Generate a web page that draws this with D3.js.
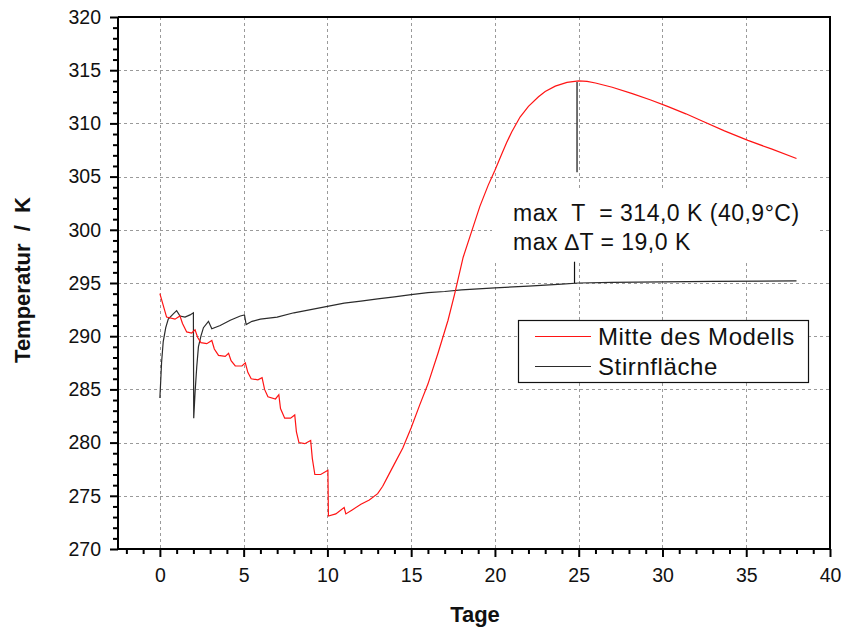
<!DOCTYPE html>
<html>
<head>
<meta charset="utf-8">
<script src="https://cdn.jsdelivr.net/npm/d3@7"></script>
<style>
  html, body { margin: 0; padding: 0; background: #fff; }
  svg { display: block; font-family: Arial, "Liberation Sans", sans-serif; }
</style>
</head>
<body>
<svg id="chart" width="846" height="631"></svg>
<script>
// Temperaturverlauf: Mitte des Modells vs. Stirnfläche (Tage, Kelvin)
const xTicks = [0, 5, 10, 15, 20, 25, 30, 35, 40];
const yTicks = [270, 275, 280, 285, 290, 295, 300, 305, 310, 315, 320];

const mitteDays = [0, 0.2, 0.4, 0.9, 1.2, 1.35, 1.6, 1.9, 2.1, 2.25, 2.45, 2.8, 3.1, 3.25, 3.5, 3.9, 4.1, 4.25, 4.5, 4.9, 5.1, 5.25, 5.45, 5.85, 6.1, 6.25, 6.45, 6.9, 7.1, 7.2, 7.45, 7.8, 8.05, 8.15, 8.3, 8.65, 9.0, 9.1, 9.25, 9.6, 10.03, 10.06, 10.5, 11.0, 11.1, 11.5, 12.0, 12.5, 13.0, 13.3, 13.6, 14.0, 14.5, 15.0, 15.5, 16.0, 16.6, 17.2, 17.6, 18.1, 18.6, 19.1, 19.6, 20.0, 20.4, 20.7, 21.0, 21.5, 22.0, 22.6, 23.0, 23.6, 24.3, 25.0, 25.5, 26.0, 27.0, 28.2, 29.3, 30.3, 31.4, 32.4, 33.7, 35.1, 36.5, 38.0];
const mitteTemp = [294.0, 292.9, 291.8, 291.6, 291.9, 291.2, 290.4, 290.3, 290.6, 289.9, 289.4, 289.3, 289.6, 288.8, 288.2, 288.1, 288.4, 287.7, 287.2, 287.2, 287.5, 286.6, 286.0, 285.9, 286.1, 285.0, 284.3, 284.1, 284.5, 283.2, 282.3, 282.3, 282.6, 281.0, 280.0, 279.9, 280.2, 278.5, 277.0, 277.0, 277.4, 273.1, 273.3, 273.9, 273.3, 273.7, 274.2, 274.6, 275.2, 275.9, 276.8, 278.0, 279.5, 281.4, 283.5, 285.5, 288.4, 291.5, 294.0, 297.4, 299.8, 302.2, 304.2, 305.6, 307.1, 308.2, 309.2, 310.6, 311.6, 312.5, 313.0, 313.5, 313.85, 314.0, 313.95, 313.8, 313.4, 312.8, 312.2, 311.6, 310.9, 310.2, 309.3, 308.4, 307.6, 306.7];

const stirnDays = [0, 0.05, 0.1, 0.2, 0.35, 0.5, 0.8, 1.0, 1.2, 1.5, 1.8, 2.0, 2.02, 2.1, 2.2, 2.3, 2.45, 2.6, 2.9, 3.1, 3.6, 4.2, 4.8, 5.05, 5.15, 5.5, 6.0, 6.5, 7.0, 8.0, 9.0, 10.0, 11.0, 12.0, 13.0, 14.0, 15.0, 16.0, 17.0, 18.0, 20.0, 22.0, 24.0, 25.0, 27.0, 30.0, 33.0, 38.0];
const stirnTemp = [284.2, 285.8, 287.5, 289.5, 290.8, 291.6, 292.1, 292.4, 291.9, 291.8, 292.0, 292.2, 282.3, 284.7, 287.1, 289.0, 290.0, 290.8, 291.4, 290.7, 291.0, 291.5, 291.9, 292.0, 291.1, 291.4, 291.6, 291.7, 291.8, 292.2, 292.5, 292.8, 293.1, 293.3, 293.5, 293.7, 293.9, 294.1, 294.2, 294.35, 294.55, 294.7, 294.9, 295.0, 295.05, 295.1, 295.15, 295.2];

const seriesNames = ["Mitte des Modells", "Stirnfläche"];
const seriesColors = ["#ff1414", "#2b2b2b"];

const maxDay = 25.0;
const maxTemp = 314.0;
const stirnAtMax = 295.0;
const annotationLines = [
  "max  T  = " + maxTemp.toFixed(1).replace(".", ",") + " K (" + (maxTemp - 273.15).toFixed(1).replace(".", ",") + "°C)",
  "max ∆T = " + (maxTemp - stirnAtMax).toFixed(1).replace(".", ",") + " K"
];

const svg = d3.select("#chart");
const plotL = 118, plotR = 830, plotT = 17, plotB = 549;

const x = d3.scaleLinear().domain([-2.5, 40]).range([plotL, plotR]);
const y = d3.scaleLinear().domain([270, 320]).range([plotB, plotT]);

// Gitternetz
const grid = svg.append("g").attr("stroke", "#9a9a9a").attr("stroke-width", 1)
  .attr("stroke-dasharray", "3,3");
grid.selectAll("line.v").data(xTicks.filter(d => d >= 0 && d < 40))
  .join("line").attr("class", "v")
  .attr("x1", d => Math.round(x(d)) + 0.5).attr("x2", d => Math.round(x(d)) + 0.5)
  .attr("y1", plotT).attr("y2", plotB);
grid.selectAll("line.h").data(yTicks.filter(d => d > 270 && d < 320))
  .join("line").attr("class", "h")
  .attr("x1", plotL).attr("x2", plotR)
  .attr("y1", d => Math.round(y(d)) + 0.5).attr("y2", d => Math.round(y(d)) + 0.5);

// Rahmen oben und rechts
svg.append("path")
  .attr("d", `M${plotL},${plotT}H${plotR}V${plotB}`)
  .attr("fill", "none").attr("stroke", "#000").attr("stroke-width", 2);

// Hintergrund der Beschriftung
svg.append("rect").attr("x", 492).attr("y", y(303.8))
  .attr("width", 326).attr("height", y(296.9) - y(303.8))
  .attr("fill", "#fff");

// Kurven
const line = d3.line().x(d => x(d[0])).y(d => y(d[1]));
const mitte = mitteDays.map((d, i) => [d, mitteTemp[i]]);
const stirn = stirnDays.map((d, i) => [d, stirnTemp[i]]);

svg.append("path").datum(stirn).attr("d", line)
  .attr("fill", "none").attr("stroke", seriesColors[1]).attr("stroke-width", 1.2);
svg.append("path").datum(mitte).attr("d", line)
  .attr("fill", "none").attr("stroke", seriesColors[0]).attr("stroke-width", 1.2);

// Markierungen am Maximum
svg.append("line").attr("x1", x(maxDay - 0.1)).attr("x2", x(maxDay - 0.1))
  .attr("y1", y(maxTemp - 0.1)).attr("y2", y(305.4))
  .attr("stroke", "#111").attr("stroke-width", 1.2);
svg.append("line").attr("x1", x(maxDay - 0.25)).attr("x2", x(maxDay - 0.25))
  .attr("y1", y(297.0)).attr("y2", y(stirnAtMax))
  .attr("stroke", "#111").attr("stroke-width", 1.2);

// Beschriftung
const ann = svg.append("g").attr("font-size", 23).attr("fill", "#111")
  .attr("letter-spacing", 0.5);
annotationLines.forEach((t, i) => {
  ann.append("text").attr("x", 513).attr("y", 221 + i * 28.5)
    .style("white-space", "pre").text(t);
});

// Achsen
const xAxis = svg.append("g").attr("transform", `translate(0,${plotB})`)
  .call(d3.axisBottom(x).tickValues(xTicks).tickSize(8).tickPadding(11).tickFormat(d3.format("d")));
const xMinor = svg.append("g").attr("transform", `translate(0,${plotB})`)
  .call(d3.axisBottom(x).tickValues(d3.range(-2, 40, 1).filter(d => d % 5 !== 0)).tickSize(5).tickFormat(""));
const yAxis = svg.append("g").attr("transform", `translate(${plotL},0)`)
  .call(d3.axisLeft(y).tickValues(yTicks).tickSize(8).tickPadding(9).tickFormat(d3.format("d")));
const yMinor = svg.append("g").attr("transform", `translate(${plotL},0)`)
  .call(d3.axisLeft(y).tickValues(d3.range(271, 320, 1).filter(d => d % 5 !== 0)).tickSize(5).tickFormat(""));

[xAxis, xMinor, yAxis, yMinor].forEach(g => {
  g.select(".domain").attr("stroke", "#000").attr("stroke-width", 2);
  g.selectAll(".tick line").attr("stroke", "#000").attr("stroke-width", 2);
  g.selectAll(".tick text").attr("font-size", 19.5).attr("fill", "#111")
    .style("font-family", "Arial, 'Liberation Sans', sans-serif");
});
xMinor.select(".domain").remove();
yMinor.select(".domain").remove();
yAxis.select(".domain").attr("d", `M0,${plotB}V${plotT}`);
xAxis.select(".domain").attr("d", `M${plotL},0H${plotR}`);

// Achsentitel
svg.append("text").attr("x", 475).attr("y", 622).attr("text-anchor", "middle")
  .attr("font-size", 22).attr("font-weight", "bold").attr("fill", "#111").text("Tage");
svg.append("text").attr("transform", "translate(30,280) rotate(-90)")
  .attr("text-anchor", "middle").attr("font-size", 22).attr("font-weight", "bold")
  .attr("fill", "#111").style("white-space", "pre")
  .text("Temperatur  /  K");

// Legende
const leg = svg.append("g");
leg.append("rect").attr("x", 518.5).attr("y", 320.5).attr("width", 290).attr("height", 62)
  .attr("fill", "#fff").attr("stroke", "#111").attr("stroke-width", 1.2);
seriesNames.forEach((name, i) => {
  const ly = 336.5 + i * 30;
  leg.append("line").attr("x1", 535).attr("x2", 591).attr("y1", ly).attr("y2", ly)
    .attr("stroke", seriesColors[i]).attr("stroke-width", 1.2);
  leg.append("text").attr("x", 598).attr("y", ly + 8.5).attr("font-size", 24)
    .attr("letter-spacing", 0.6).attr("fill", "#111").text(name);
});
</script>
</body>
</html>
